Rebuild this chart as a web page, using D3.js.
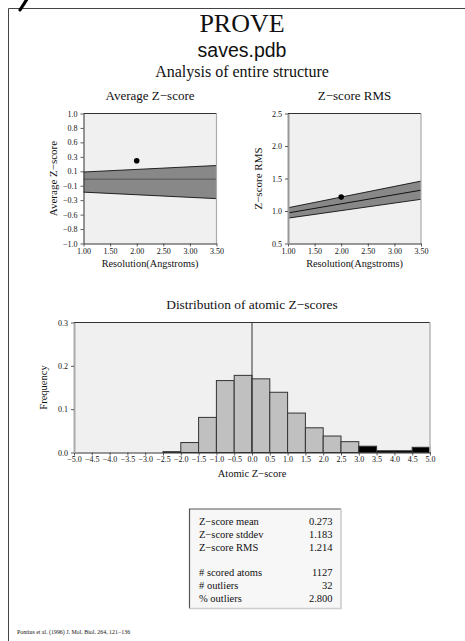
<!DOCTYPE html>
<html><head><meta charset="utf-8">
<script src="https://cdn.jsdelivr.net/npm/d3@7/dist/d3.min.js"></script>
<style>
html,body{margin:0;padding:0;background:#fff;}
svg{display:block;}
text{font-family:"Liberation Serif","DejaVu Serif",serif;fill:#111;}
</style></head>
<body>
<script>
// ---------- data ----------
const resolutionX = [1.0, 3.5];
const avgUpper  = [0.10, 0.20];
const avgCenter = [-0.01, -0.01];
const avgLower  = [-0.21, -0.31];
const rmsUpper  = [1.05, 1.46];
const rmsCenter = [0.97, 1.32];
const rmsLower  = [0.89, 1.18];
const structRes = 2.0;
const structAvgZ = 0.273;
const structRmsZ = 1.214;

const topXTicks = [1.0, 1.5, 2.0, 2.5, 3.0, 3.5];
const avgYTicks = [-1, -0.778, -0.556, -0.333, -0.111, 0.111, 0.333, 0.556, 0.778, 1];
const rmsYTicks = [0.5, 1.0, 1.5, 2.0, 2.5];

const histBinStart = [-5.0,-4.5,-4.0,-3.5,-3.0,-2.5,-2.0,-1.5,-1.0,-0.5,0.0,0.5,1.0,1.5,2.0,2.5,3.0,3.5,4.0,4.5];
const histFreq     = [0,0,0,0,0,0.002,0.023,0.081,0.166,0.178,0.170,0.139,0.091,0.057,0.038,0.025,0.0145,0.004,0.004,0.012];
const histXTicks = [-5.0,-4.5,-4.0,-3.5,-3.0,-2.5,-2.0,-1.5,-1.0,-0.5,0.0,0.5,1.0,1.5,2.0,2.5,3.0,3.5,4.0,4.5,5.0];
const histYTicks = [0.0, 0.1, 0.2, 0.3];
const outlierCut = 3.0;

const statLabels = ["Z\u2212score mean","Z\u2212score stddev","Z\u2212score RMS","","# scored atoms","# outliers","% outliers"];
const statValues = ["0.273","1.183","1.214","","1127","32","2.800"];

// ---------- drawing ----------
const W = 465, H = 641;
const svg = d3.select("body").append("svg").attr("width", W).attr("height", H);
svg.append("rect").attr("width", W).attr("height", H).attr("fill", "#fff");

// page border
svg.append("path").attr("d", `M8.5,${H} L8.5,8.5 L${W},8.5`).attr("fill","none").attr("stroke","#444").attr("stroke-width",1);
svg.append("path").attr("d","M26.5,0 L20,10").attr("stroke","#000").attr("stroke-width",3.2).attr("stroke-linecap","round");

const fmt1 = v => (v < 0 ? "\u2212" : "") + Math.abs(v).toFixed(1);
const fmt2 = v => (v < 0 ? "\u2212" : "") + Math.abs(v).toFixed(2);

function title(t, x, y, size, fam) {
  const e = svg.append("text").attr("x", x).attr("y", y).attr("text-anchor","middle")
    .attr("font-size", size).text(t);
  if (fam) e.style("font-family", fam);
  return e;
}
title("PROVE", 242, 31.5, 26);
title("saves.pdb", 242, 57, 19.5, "'Liberation Sans',Arial,sans-serif");
title("Analysis of entire structure", 242, 77, 16);

function styleAxis(g, domainColor, domainWidth) {
  g.attr("font-size", 8);
  g.selectAll("text").attr("font-size", 8).style("font-family","'Liberation Serif',serif").attr("fill","#222");
  g.selectAll(".tick line").attr("stroke","#333").attr("stroke-width",0.8);
  g.select(".domain").attr("stroke", domainColor).attr("stroke-width", domainWidth);
}

function panel(opt) {
  const {x0,x1,y0,y1,xDom,yDom} = opt;
  const x = d3.scaleLinear().domain(xDom).range([x0,x1]);
  const y = d3.scaleLinear().domain(yDom).range([y1,y0]);
  const g = svg.append("g");
  g.append("rect").attr("x",x0).attr("y",y0).attr("width",x1-x0).attr("height",y1-y0).attr("fill","#f0f0f0");
  return {x,y,g};
}

function topPanel(opt) {
  const {x0,x1,y0,y1,yDom,yTicks,yFmt,upper,center,lower,pt,centerColor,leftColor,leftW,ttl,ylab,ylabX} = opt;
  const {x,y,g} = panel({x0,x1,y0,y1,xDom:[1.0,3.5],yDom});
  const band = d3.area().x((d,i)=>x(resolutionX[i])).y0((d,i)=>y(lower[i])).y1((d,i)=>y(upper[i]));
  g.append("path").datum(upper).attr("d", band).attr("fill","#888");
  const ln = arr => d3.line().x((d,i)=>x(resolutionX[i])).y(d=>y(d))(arr);
  g.append("path").attr("d", ln(upper)).attr("stroke","#111").attr("stroke-width",0.9).attr("fill","none");
  g.append("path").attr("d", ln(lower)).attr("stroke","#111").attr("stroke-width",0.9).attr("fill","none");
  g.append("path").attr("d", ln(center)).attr("stroke",centerColor).attr("stroke-width",1).attr("fill","none");
  g.append("circle").attr("cx", x(structRes)).attr("cy", y(pt)).attr("r",2.8).attr("fill","#000");
  // frame
  g.append("line").attr("x1",x0).attr("x2",x1).attr("y1",y0).attr("y2",y0).attr("stroke","#333").attr("stroke-width",1);
  g.append("line").attr("x1",x1).attr("x2",x1).attr("y1",y0).attr("y2",y1).attr("stroke","#aaa").attr("stroke-width",1.2);
  const ax = g.append("g").attr("transform",`translate(0,${y1})`)
    .call(d3.axisBottom(x).tickValues(topXTicks).tickFormat(fmt2).tickSize(3).tickSizeOuter(0).tickPadding(1.5));
  styleAxis(ax, "#333", 1);
  const ay = g.append("g").attr("transform",`translate(${x0},0)`)
    .call(d3.axisLeft(y).tickValues(yTicks).tickFormat(yFmt).tickSize(3).tickSizeOuter(0).tickPadding(3));
  styleAxis(ay, leftColor, leftW);
  svg.append("text").attr("x",(x0+x1)/2).attr("y",100).attr("text-anchor","middle").attr("font-size",13).text(ttl);
  svg.append("text").attr("x",(x0+x1)/2).attr("y",266.5).attr("text-anchor","middle").attr("font-size",10.3).text("Resolution(Angstroms)");
  svg.append("text").attr("transform",`translate(${ylabX},${(y0+y1)/2}) rotate(-90)`).attr("text-anchor","middle").attr("font-size",11).text(ylab);
}

topPanel({x0:83.5,x1:216.5,y0:113.5,y1:243.5,yDom:[-1,1],yTicks:avgYTicks,yFmt:fmt1,
  upper:avgUpper,center:avgCenter,lower:avgLower,pt:structAvgZ,centerColor:"#555",
  leftColor:"#333",leftW:1,ttl:"Average Z\u2212score",ylab:"Average Z\u2212score",ylabX:57});
topPanel({x0:288,x1:421,y0:113.5,y1:243.5,yDom:[0.5,2.5],yTicks:rmsYTicks,yFmt:fmt1,
  upper:rmsUpper,center:rmsCenter,lower:rmsLower,pt:structRmsZ,centerColor:"#111",
  leftColor:"#999",leftW:2,ttl:"Z\u2212score RMS",ylab:"Z\u2212score RMS",ylabX:262});

// ---------- histogram ----------
{
  const x0=74, x1=430, y0=322.5, y1=452.5;
  const {x,y,g} = panel({x0,x1,y0,y1,xDom:[-5,5],yDom:[0,0.3]});
  const binW = 0.5;
  g.selectAll("rect.bar").data(histBinStart.map((s,i)=>({s,f:histFreq[i]})).filter(d=>d.f>0))
    .enter().append("rect").attr("class","bar")
    .attr("x", d=>x(d.s)).attr("width", d=>x(d.s+binW)-x(d.s))
    .attr("y", d=>y(d.f)).attr("height", d=>y(0)-y(d.f))
    .attr("fill", d=> d.s >= outlierCut ? "#000" : "#c0c0c0")
    .attr("stroke","#333").attr("stroke-width",1);
  g.append("line").attr("x1",x(0)).attr("x2",x(0)).attr("y1",y0).attr("y2",y1).attr("stroke","#333").attr("stroke-width",1);
  g.append("line").attr("x1",x0).attr("x2",x1).attr("y1",y0).attr("y2",y0).attr("stroke","#333").attr("stroke-width",1);
  g.append("line").attr("x1",x1).attr("x2",x1).attr("y1",y0).attr("y2",y1).attr("stroke","#bbb").attr("stroke-width",1.6);
  const ax = g.append("g").attr("transform",`translate(0,${y1})`)
    .call(d3.axisBottom(x).tickValues(histXTicks).tickFormat(fmt1).tickSize(3).tickSizeOuter(0).tickPadding(1));
  styleAxis(ax, "#333", 1);
  const ay = g.append("g").attr("transform",`translate(${x0},0)`)
    .call(d3.axisLeft(y).tickValues(histYTicks).tickFormat(fmt1).tickSize(3).tickSizeOuter(0).tickPadding(3));
  styleAxis(ay, "#aaa", 2);
  svg.append("text").attr("x",252).attr("y",308.5).attr("text-anchor","middle").attr("font-size",13.4).text("Distribution of atomic Z\u2212scores");
  svg.append("text").attr("x",252).attr("y",476.5).attr("text-anchor","middle").attr("font-size",10.5).text("Atomic Z\u2212score");
  svg.append("text").attr("transform",`translate(47,${(y0+y1)/2}) rotate(-90)`).attr("text-anchor","middle").attr("font-size",10.5).text("Frequency");
}

// ---------- stats table ----------
{
  const bx0=189.5, bx1=341, by0=509, by1=608.5;
  svg.append("rect").attr("x",bx0).attr("y",by0).attr("width",bx1-bx0).attr("height",by1-by0).attr("fill","#f7f7f7");
  svg.append("path").attr("d",`M${bx0},${by1} L${bx0},${by0} L${bx1},${by0}`).attr("fill","none").attr("stroke","#555").attr("stroke-width",1.2);
  svg.append("path").attr("d",`M${bx1},${by0} L${bx1},${by1} L${bx0},${by1}`).attr("fill","none").attr("stroke","#ccc").attr("stroke-width",1.6);
  const rowY = d3.scaleLinear().domain([0,6]).range([525,602]);
  statLabels.forEach((t,i)=>{
    if (!t) return;
    svg.append("text").attr("x",199).attr("y",rowY(i)).attr("font-size",10.5).text(t);
    svg.append("text").attr("x",332.5).attr("y",rowY(i)).attr("text-anchor","end").attr("font-size",10.5).text(statValues[i]);
  });
}

svg.append("text").attr("x",17).attr("y",634).attr("font-size",5.9).text("Pontius et al. (1996) J. Mol. Biol. 264, 121\u2212136");
</script>
</body></html>
